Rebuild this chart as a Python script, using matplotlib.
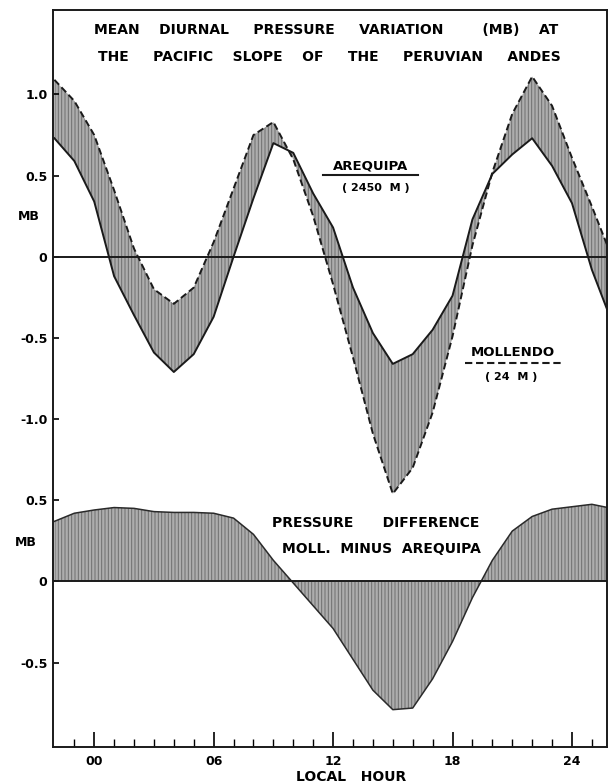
import numpy as np
import matplotlib
matplotlib.use("Agg")
import matplotlib.pyplot as plt
from matplotlib.lines import Line2D

plt.rcParams['font.family'] = ['DejaVu Sans']
plt.rcParams['font.weight'] = 'bold'
plt.rcParams['hatch.linewidth'] = 0.7

# local hour (the sheet runs a bit past 00 and 24 on both sides)
hours = np.arange(-2, 27)

# mean diurnal pressure variation, mb
arequipa = [0.73, 0.59, 0.34, -0.12, -0.36, -0.59, -0.71, -0.60, -0.37, 0.00,
            0.36, 0.70, 0.64, 0.39, 0.18, -0.19, -0.47, -0.66, -0.60, -0.45,
            -0.24, 0.23, 0.51, 0.63, 0.73, 0.56, 0.33, -0.08, -0.40]
mollendo = [1.09, 0.96, 0.75, 0.41, 0.05, -0.20, -0.29, -0.19, 0.09, 0.42,
            0.75, 0.83, 0.60, 0.25, -0.17, -0.62, -1.09, -1.46, -1.30, -0.96,
            -0.49, 0.07, 0.52, 0.88, 1.11, 0.93, 0.61, 0.31, 0.00]
# pressure difference Mollendo minus Arequipa, mb
difference = [0.37, 0.42, 0.44, 0.455, 0.45, 0.43, 0.425, 0.425, 0.42, 0.39,
              0.29, 0.13, -0.01, -0.15, -0.29, -0.48, -0.67, -0.79, -0.78, -0.60,
              -0.37, -0.10, 0.13, 0.31, 0.40, 0.445, 0.46, 0.475, 0.45]

hour_ticks = [0, 6, 12, 18, 24]
hour_labels = ['00', '06', '12', '18', '24']

# lower panel shares the frame, its zero sits 2 mb below the upper one
LOWER = -2.0
diff_plot = np.array(difference) + LOWER
y_ticks = [1.0, 0.5, 0.0, -0.5, -1.0, 0.5 + LOWER, LOWER, -0.5 + LOWER]
y_labels = ['1.0', '0.5', '0', '-0.5', '-1.0', '0.5', '0', '-0.5']

W, H = 609, 784
fig = plt.figure(figsize=(W / 100, H / 100), dpi=100)


def px(x, y):
    return x / W, 1 - y / H


ax = fig.add_axes([53 / W, 1 - 747 / H, (607 - 53) / W, (747 - 10) / H])

shade = dict(facecolor='#adadad', edgecolor='#6e6e6e', hatch='|||||', linewidth=0)
ax.fill_between(hours, arequipa, mollendo, **shade)
ax.fill_between(hours, diff_plot, LOWER, **shade)

ax.plot(hours, arequipa, color='#1a1a1a', lw=1.4)
ax.plot(hours, mollendo, color='#1a1a1a', lw=1.4, ls=(0, (3.5, 1.8)))
ax.plot(hours, diff_plot, color='#2a2a2a', lw=1.1)

ax.axhline(0, color='#1a1a1a', lw=1.4)
ax.axhline(LOWER, color='#1a1a1a', lw=1.4)

ax.set_xlim(-2.07, 25.76)
ax.set_ylim(-3.02, 1.52)

ax.set_xticks(hour_ticks)
ax.set_xticklabels(hour_labels)
ax.set_xticks(np.arange(-1, 26), minor=True)
ax.set_yticks(y_ticks)
ax.set_yticklabels(y_labels)
ax.tick_params(axis='x', which='major', direction='in', length=11, width=1.2,
               pad=6, labelsize=9)
ax.tick_params(axis='x', which='minor', direction='in', length=6, width=1.0)
ax.tick_params(axis='y', direction='in', length=4, width=1.2, pad=4, labelsize=9)
for s in ax.spines.values():
    s.set_linewidth(1.4)
    s.set_color('#1a1a1a')

# titles and labels
fig.text(*px(326, 30), 'MEAN    DIURNAL     PRESSURE     VARIATION        (MB)    AT',
         ha='center', va='center', fontsize=10)
fig.text(*px(329, 57), 'THE     PACIFIC    SLOPE    OF     THE     PERUVIAN     ANDES',
         ha='center', va='center', fontsize=10)

fig.text(*px(29, 217), 'MB', ha='center', va='center', fontsize=9)
fig.text(*px(26, 542), 'MB', ha='center', va='center', fontsize=9)

fig.text(*px(371, 166), 'AREQUIPA', ha='center', va='center', fontsize=9.5)
fig.add_artist(Line2D([323 / W, 418 / W], [1 - 175 / H, 1 - 175 / H],
                      color='#1a1a1a', lw=1.5))
fig.text(*px(376, 188), '( 2450  M )', ha='center', va='center', fontsize=8)

fig.text(*px(513, 352), 'MOLLENDO', ha='center', va='center', fontsize=9.5)
fig.add_artist(Line2D([465 / W, 563 / W], [1 - 363 / H, 1 - 363 / H],
                      color='#1a1a1a', lw=1.5, ls=(0, (3.5, 1.8))))
fig.text(*px(511, 377), '( 24  M )', ha='center', va='center', fontsize=8)

fig.text(*px(376, 523), 'PRESSURE      DIFFERENCE', ha='center', va='center', fontsize=10)
fig.text(*px(381, 549), 'MOLL.  MINUS  AREQUIPA', ha='center', va='center', fontsize=10)

fig.text(*px(351, 777), 'LOCAL   HOUR', ha='center', va='center', fontsize=10)

fig.savefig('out.png', dpi=100, facecolor='white')
